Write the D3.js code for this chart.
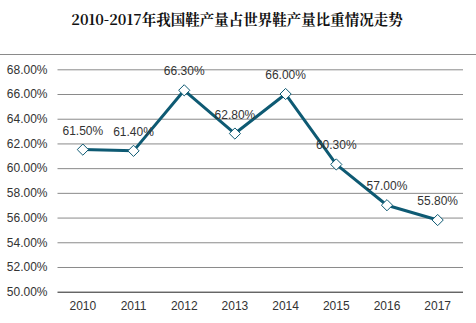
<!DOCTYPE html>
<html><head><meta charset="utf-8">
<script src="https://cdn.jsdelivr.net/npm/d3@7"></script>
<style>html,body{margin:0;padding:0;background:#fff;}svg{display:block;}</style>
</head><body>
<svg id="c" width="476" height="323"></svg>
<script>
const title = "2010-2017年我国鞋产量占世界鞋产量比重情况走势";
const years = ["2010","2011","2012","2013","2014","2015","2016","2017"];
const share = [61.5, 61.4, 66.3, 62.8, 66.0, 60.3, 57.0, 55.8];
const yTicks = [50, 52, 54, 56, 58, 60, 62, 64, 66, 68];

(function () {
const svg = d3.select("#c");
const mLeft = 57.5, mRight = 463, mTop = 69.3, mBottom = 291.7;
const x = d3.scaleBand().domain(years).range([mLeft, mRight]);
const y = d3.scaleLinear().domain([50, 68]).range([mBottom, mTop]);
const font = "'Liberation Sans', Arial, sans-serif";

svg.append("text").attr("x", 237).attr("y", 25).attr("text-anchor", "middle")
  .attr("font-family", "'Noto Serif CJK SC','Noto Sans CJK SC',serif").attr("font-weight", "bold")
  .attr("font-size", 14.5).attr("fill", "#111").text(title);

svg.append("line").attr("x1", 0).attr("x2", 476).attr("y1", 54.5).attr("y2", 54.5)
  .attr("stroke", "#8a8a8a").attr("stroke-width", 1);

const ya = svg.append("g").attr("transform", `translate(${mLeft},0)`)
  .call(d3.axisLeft(y).tickValues(yTicks).tickSize(-(mRight - mLeft)).tickPadding(10)
    .tickFormat(d => d.toFixed(2) + "%"));
ya.select(".domain").remove();
ya.selectAll(".tick line").attr("stroke", d => d === 50 ? "#222" : "#8a8a8a").attr("stroke-width", 1);
ya.selectAll(".tick text").attr("font-family", font).attr("font-size", 12).attr("fill", "#333");

const xa = svg.append("g").attr("transform", `translate(0,${mBottom})`)
  .call(d3.axisBottom(x).tickSize(0).tickPadding(10));
xa.select(".domain").remove();
xa.selectAll(".tick text").attr("font-family", font).attr("font-size", 12).attr("fill", "#333");

const cx = d => x(d) + x.bandwidth() / 2;
const line = d3.line().x((d, i) => cx(years[i])).y(d => y(d));
svg.append("path").datum(share).attr("d", line).attr("fill", "none")
  .attr("stroke", "#0e5a73").attr("stroke-width", 3).attr("stroke-linejoin", "round");

svg.selectAll(".pt").data(share).enter().append("path")
  .attr("d", d3.symbol().type(d3.symbolDiamond2).size(80))
  .attr("transform", (d, i) => `translate(${cx(years[i])},${y(d)})`)
  .attr("fill", "#fff").attr("stroke", "#0e5a73").attr("stroke-width", 1);

svg.selectAll(".lbl").data(share).enter().append("text")
  .attr("x", (d, i) => cx(years[i])).attr("y", d => y(d) - 15)
  .attr("text-anchor", "middle").attr("font-family", font).attr("font-size", 12)
  .attr("fill", "#333").text(d => d.toFixed(2) + "%");
})();
</script>
</body></html>
